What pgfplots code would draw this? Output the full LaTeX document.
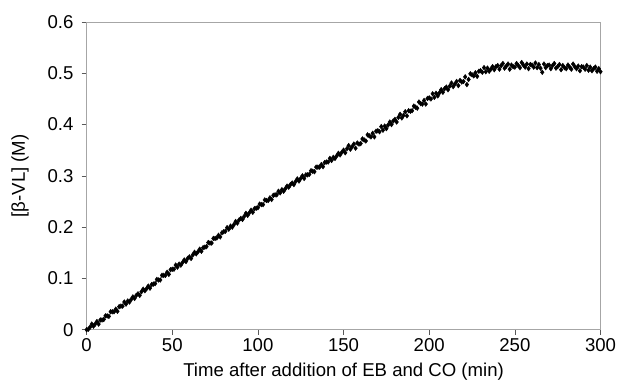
\documentclass[border=0pt]{standalone}
\usepackage{pgfplots}
\pgfplotsset{compat=1.18}
\usepackage{pgfplotstable}
\usepackage{fontspec}
\setmainfont{Liberation Sans}
\pgfplotstableread{
x y
0 0.000
1 0.001
2 0.005
3 0.011
4 0.007
5 0.011
6 0.016
7 0.011
8 0.019
9 0.019
10 0.020
11 0.027
12 0.027
13 0.026
14 0.035
15 0.035
16 0.035
17 0.040
18 0.036
19 0.045
20 0.046
21 0.046
22 0.054
23 0.050
24 0.056
25 0.054
26 0.059
27 0.064
28 0.061
29 0.067
30 0.070
31 0.067
32 0.074
33 0.079
34 0.076
35 0.080
36 0.085
37 0.081
38 0.088
39 0.089
40 0.090
41 0.098
42 0.097
43 0.097
44 0.106
45 0.106
46 0.106
47 0.112
48 0.108
49 0.117
50 0.118
51 0.118
52 0.126
53 0.122
54 0.128
55 0.126
56 0.131
57 0.136
58 0.133
59 0.139
60 0.142
61 0.139
62 0.146
63 0.151
64 0.148
65 0.152
66 0.157
67 0.153
68 0.160
69 0.161
70 0.162
71 0.170
72 0.169
73 0.169
74 0.178
75 0.178
76 0.179
77 0.184
78 0.181
79 0.189
80 0.191
81 0.192
82 0.199
83 0.196
84 0.202
85 0.200
86 0.205
87 0.211
88 0.208
89 0.214
90 0.217
91 0.215
92 0.221
93 0.227
94 0.223
95 0.228
96 0.233
97 0.229
98 0.236
99 0.237
100 0.238
101 0.245
102 0.244
103 0.244
104 0.253
105 0.252
106 0.252
107 0.257
108 0.254
109 0.262
110 0.263
111 0.263
112 0.270
113 0.267
114 0.273
115 0.270
116 0.275
117 0.280
118 0.278
119 0.283
120 0.286
121 0.283
122 0.289
123 0.294
124 0.290
125 0.295
126 0.300
127 0.295
128 0.302
129 0.302
130 0.303
131 0.310
132 0.309
133 0.308
134 0.317
135 0.317
136 0.317
137 0.322
138 0.318
139 0.326
140 0.327
141 0.327
142 0.334
143 0.330
144 0.336
145 0.334
146 0.339
147 0.344
148 0.341
149 0.346
150 0.350
151 0.345
152 0.353
153 0.359
154 0.352
155 0.357
156 0.362
157 0.354
158 0.364
159 0.362
160 0.363
161 0.372
162 0.370
163 0.368
164 0.380
165 0.378
166 0.376
167 0.383
168 0.376
169 0.387
170 0.388
171 0.386
172 0.396
173 0.389
174 0.397
175 0.392
176 0.399
177 0.405
178 0.400
179 0.407
180 0.410
181 0.405
182 0.414
183 0.420
184 0.413
185 0.418
186 0.425
187 0.417
188 0.427
189 0.426
190 0.427
191 0.436
192 0.434
193 0.432
194 0.444
195 0.441
196 0.440
197 0.447
198 0.440
199 0.451
200 0.452
201 0.450
202 0.460
203 0.453
204 0.461
205 0.456
206 0.462
207 0.468
208 0.463
209 0.470
210 0.473
211 0.468
212 0.475
213 0.481
214 0.474
215 0.479
216 0.484
217 0.476
218 0.486
219 0.483
220 0.484
221 0.493
222 0.478
223 0.488
224 0.499
225 0.497
226 0.495
227 0.501
228 0.494
229 0.504
230 0.505
231 0.502
232 0.511
233 0.503
234 0.510
235 0.504
236 0.508
237 0.513
238 0.507
239 0.513
240 0.515
241 0.508
242 0.515
243 0.519
244 0.510
245 0.514
246 0.518
247 0.508
248 0.516
249 0.513
250 0.512
251 0.519
252 0.515
253 0.511
254 0.521
255 0.516
256 0.512
257 0.518
258 0.509
259 0.517
260 0.516
261 0.512
262 0.520
263 0.511
264 0.517
265 0.510
266 0.502
267 0.518
268 0.511
269 0.515
270 0.516
271 0.509
272 0.515
273 0.519
274 0.510
275 0.513
276 0.517
277 0.507
278 0.515
279 0.511
280 0.509
281 0.516
282 0.512
283 0.508
284 0.518
285 0.513
286 0.509
287 0.514
288 0.505
289 0.513
290 0.512
291 0.508
292 0.515
293 0.506
294 0.512
295 0.505
296 0.509
297 0.512
298 0.504
299 0.509
300 0.503
}\datatable
\begin{document}
\begin{tikzpicture}
\begin{axis}[
  scale only axis,
  width=514.3bp, height=308bp,
  xmin=0, xmax=300, ymin=0, ymax=0.6,
  xtick={0,50,...,300},
  ytick={0,0.1,0.2,0.3,0.4,0.5,0.6},
  yticklabels={0,0.1,0.2,0.3,0.4,0.5,0.6},
  xtick pos=bottom, ytick pos=left,
  tick align=outside,
  major tick length=5bp,
  tick style={gray!70!black, line width=0.6pt},
  axis line style={gray!70, line width=0.7pt},
  /pgf/number format/assume math mode=true,
  ticklabel style={font=\fontsize{18.6bp}{20bp}\selectfont},
  xticklabel style={inner xsep=1bp, inner ysep=4bp},
  yticklabel style={inner xsep=8bp, inner ysep=2bp},
  xlabel={Time after addition of EB and CO (min)},
  ylabel={[β-VL] (M)},
  every axis x label/.style={at={(axis description cs:0.5,-0.137)}, anchor=center, font=\fontsize{18.6bp}{20bp}\selectfont},
  every axis y label/.style={at={(axis description cs:-0.1297,0.5)}, anchor=center, rotate=90, font=\fontsize{18.6bp}{20bp}\selectfont},
  clip=false,
]
\addplot[only marks, mark=diamond*, mark size=2.4pt, black] table[x=x, y=y] {\datatable};
\coordinate (O) at (rel axis cs:0,0);
\end{axis}
\path (O) ++(-86.7bp,-47bp) rectangle ++(617bp,377bp);
\end{tikzpicture}
\end{document}
